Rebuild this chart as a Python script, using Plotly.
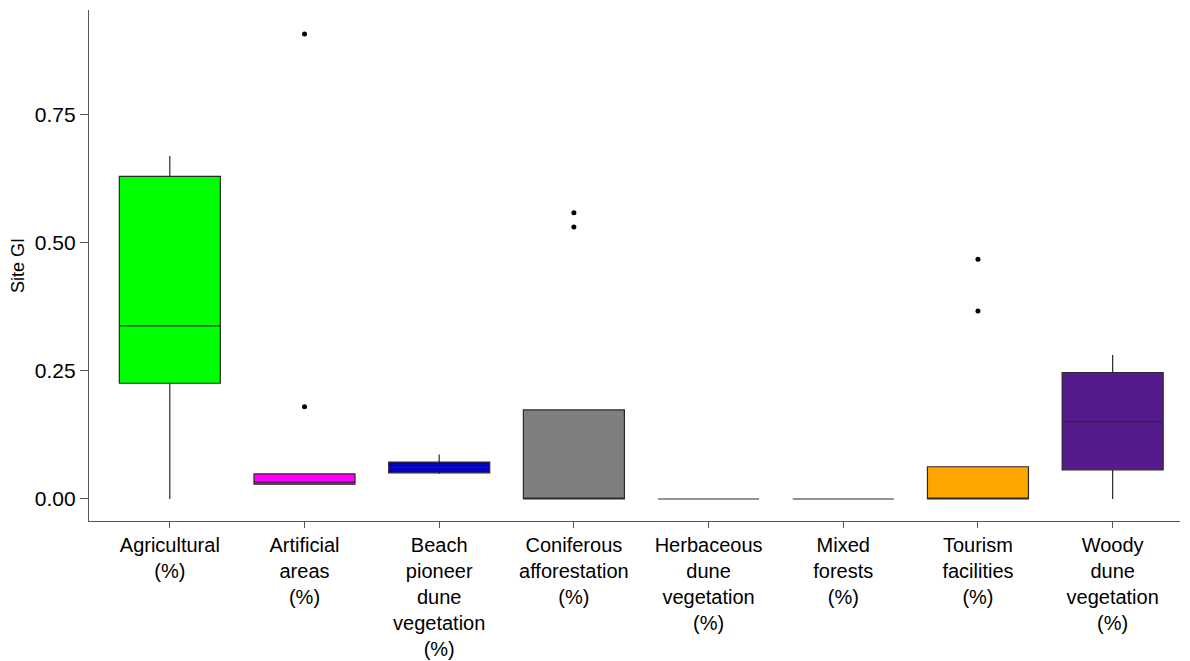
import plotly.graph_objects as go

# land cover classes and their box summaries
categories = ["Agricultural", "Artificial areas", "Beach pioneer dune vegetation",
              "Coniferous afforestation", "Herbaceous dune vegetation",
              "Mixed forests", "Tourism facilities", "Woody dune vegetation"]
tick_labels = ["Agricultural<br>(%)", "Artificial<br>areas<br>(%)",
               "Beach<br>pioneer<br>dune<br>vegetation<br>(%)",
               "Coniferous<br>afforestation<br>(%)", "Herbaceous<br>dune<br>vegetation<br>(%)",
               "Mixed<br>forests<br>(%)", "Tourism<br>facilities<br>(%)",
               "Woody<br>dune<br>vegetation<br>(%)"]
lower = [0.0, 0.029, 0.049, 0.0, 0.0, 0.0, 0.0, 0.0]
q1 = [0.226, 0.029, 0.051, 0.0, 0.0, 0.0, 0.0, 0.057]
median = [0.338, 0.033, 0.062, 0.0, 0.0, 0.0, 0.0, 0.151]
q3 = [0.630, 0.049, 0.072, 0.174, 0.0, 0.0, 0.063, 0.247]
upper = [0.670, 0.049, 0.087, 0.174, 0.0, 0.0, 0.063, 0.281]
colors = ["#00FF00", "#FF00FF", "#0000CD", "#7F7F7F", "#FFFFFF", "#FFFFFF", "#FFA500", "#551A8B"]

out_cat = ["Artificial areas", "Artificial areas", "Coniferous afforestation",
           "Coniferous afforestation", "Tourism facilities", "Tourism facilities"]
out_val = [0.180, 0.908, 0.559, 0.531, 0.468, 0.367]

fig = go.Figure()
for i, c in enumerate(categories):
    fig.add_trace(go.Box(
        x=[c], q1=[q1[i]], median=[median[i]], q3=[q3[i]],
        lowerfence=[lower[i]], upperfence=[upper[i]],
        fillcolor=colors[i], line=dict(color="#2a2a2a", width=1.2),
        whiskerwidth=0, width=0.75, boxpoints=False, showlegend=False))

fig.add_trace(go.Scatter(x=out_cat, y=out_val, mode="markers",
                         marker=dict(color="black", size=5), showlegend=False))

# page body adds an 8px margin, so the figure is sized to fit the window
fig.update_layout(
    width=1182, height=653,
    margin=dict(l=81, r=10, t=2, b=140),
    plot_bgcolor="white", paper_bgcolor="white",
    boxmode="overlay",
    font=dict(family="Arial, Liberation Sans, sans-serif", color="black"),
)
fig.update_xaxes(
    categoryorder="array", categoryarray=categories,
    tickvals=categories, ticktext=tick_labels,
    range=[-0.6, 7.5], showgrid=False, zeroline=False,
    showline=True, linecolor="#555", linewidth=1.2,
    ticks="outside", ticklen=6, tickcolor="#555",
    tickfont=dict(size=20, color="black"), automargin=False)
fig.update_yaxes(
    title=dict(text="Site GI", font=dict(size=18), standoff=6),
    range=[-0.043, 0.955], tickvals=[0, 0.25, 0.5, 0.75],
    ticktext=["0.00", "0.25", "0.50", "0.75"],
    showgrid=False, zeroline=False,
    showline=True, linecolor="#555", linewidth=1.2,
    ticks="outside", ticklen=8, tickcolor="#555",
    tickfont=dict(size=21, color="black"), automargin=False)

fig.write_html("out.html")
